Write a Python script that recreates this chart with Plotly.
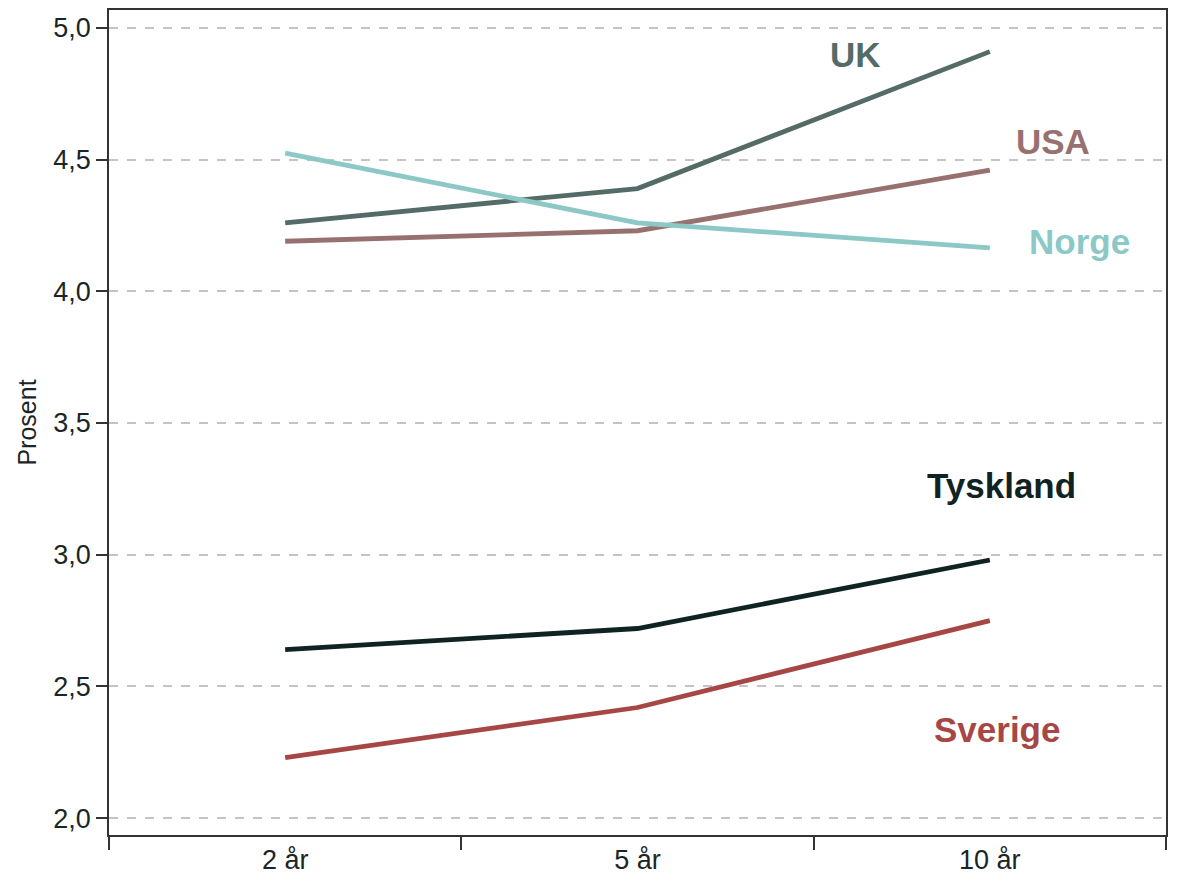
import plotly.graph_objects as go

categories = ["2 år", "5 år", "10 år"]
uk = [4.26, 4.39, 4.91]
usa = [4.19, 4.23, 4.46]
norge = [4.525, 4.26, 4.165]
tyskland = [2.64, 2.72, 2.98]
sverige = [2.23, 2.42, 2.75]

series = [
    ("UK", uk, "#546B68", 0.706, 4.898),
    ("USA", usa, "#977170", 0.893, 4.568),
    ("Norge", norge, "#8CC8C5", 0.918, 4.19),
    ("Tyskland", tyskland, "#0F2322", 0.844, 3.261),
    ("Sverige", sverige, "#A64745", 0.840, 2.337),
]
y_ticks = [2.0, 2.5, 3.0, 3.5, 4.0, 4.5, 5.0]

fig = go.Figure()
for name, vals, color, lx, ly in series:
    fig.add_trace(go.Scatter(x=categories, y=vals, mode="lines", name=name,
                             line=dict(color=color, width=4.8), showlegend=False))
    fig.add_annotation(x=lx, xref="paper", y=ly, yref="y", text=f"<b>{name}</b>",
                       showarrow=False, xanchor="center", yanchor="middle",
                       font=dict(size=35, color=color, family="Liberation Sans, Arial, sans-serif"))

fig.update_layout(
    width=1179, height=884,
    margin=dict(l=101, r=21, t=0, b=57),
    paper_bgcolor="white", plot_bgcolor="white",
    separators=", ",
    font=dict(family="Liberation Sans, Arial, sans-serif", size=26, color="#1a2626"),
)
fig.update_xaxes(
    type="category", range=[-0.5, 2.5], tickson="boundaries",
    ticks="outside", ticklen=13, tickcolor="#333", tickwidth=1.5,
    showline=True, linecolor="#333", linewidth=1.5, mirror=True,
    showgrid=False, tickfont=dict(size=27),
)
fig.update_yaxes(
    range=[1.936, 5.068], tickvals=y_ticks, tickformat=".1f",
    ticks="outside", ticklen=11, tickcolor="#333", tickwidth=1.5,
    showline=True, linecolor="#333", linewidth=1.5, mirror=True,
    showgrid=True, gridcolor="#c4c4c4", gridwidth=1.5, griddash="dash",
    zeroline=False, tickfont=dict(size=27),
    title=dict(text="Prosent", font=dict(size=25), standoff=10),
)
fig.write_html("out.html")
